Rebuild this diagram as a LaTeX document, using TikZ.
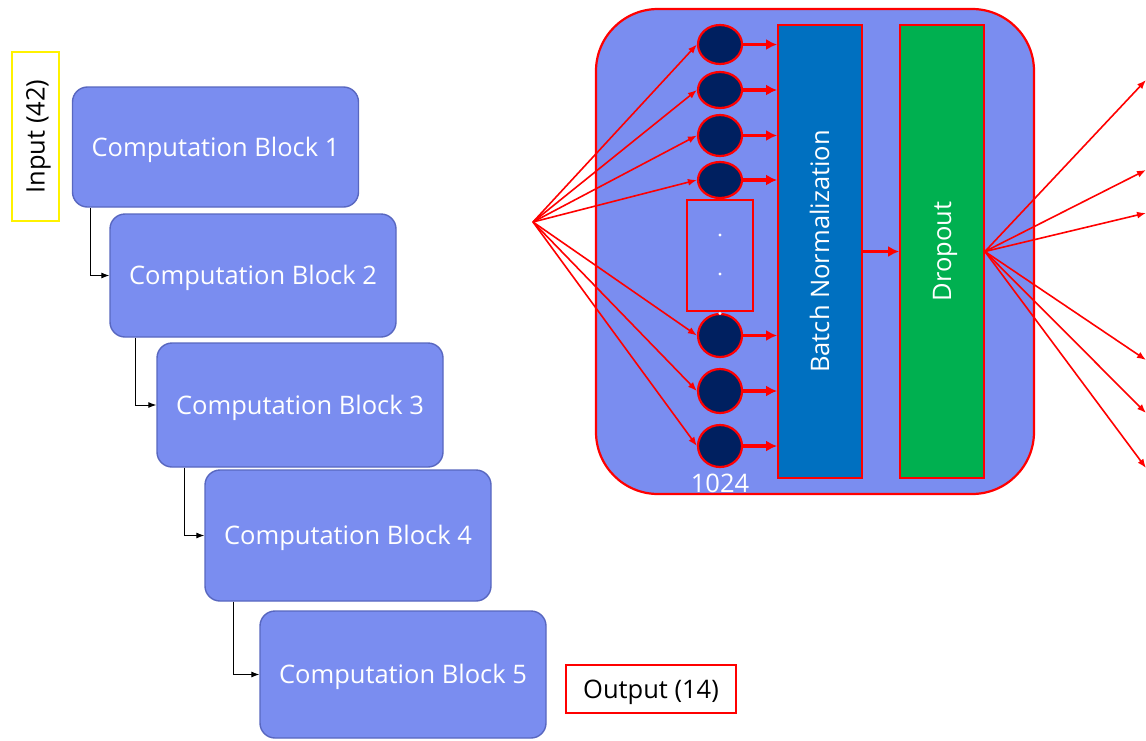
\documentclass[tikz,border=0pt]{standalone}
\usepackage{fontspec}
\setmainfont{Open Sans}
\usetikzlibrary{arrows.meta,shapes.geometric}
\definecolor{boxblue}{HTML}{7A8DF0}
\definecolor{blockline}{HTML}{5867C0}
\definecolor{neuron}{HTML}{002060}
\definecolor{bnblue}{HTML}{0070C0}
\definecolor{dropgreen}{HTML}{00B050}
\tikzset{
  txt/.style={font=\fontsize{25.5}{30}\selectfont, text height=18pt, text depth=0pt},
  block/.style={txt, draw=blockline, line width=1.4pt, fill=boxblue, text=white, rounded corners=15pt, minimum width=286pt, inner sep=0pt},
  flow/.style={draw=black, line width=0.9pt, -{Latex[length=8pt,width=6pt]}},
  neur/.style={ellipse, draw=red, line width=2.2pt, fill=neuron, minimum width=44pt, inner sep=0pt},
  thin red/.style={draw=red, line width=1.6pt, -{Latex[length=9pt,width=7pt]}},
  thick red/.style={draw=red, line width=3.6pt, -{Latex[length=11pt,width=11pt]}},
  bar/.style={txt, draw=red, line width=1.8pt, text=white, minimum width=453pt, minimum height=84pt, inner sep=0pt, rotate=90},
}
\begin{document}
\begin{tikzpicture}[x=1pt,y=-1pt]
\useasboundingbox[fill=white] (0,0) rectangle (1146,740);

% left stack
\node[txt, draw=yellow, line width=1.3pt, minimum width=169pt, minimum height=47pt, inner sep=0pt, rotate=90] (inp) at (35.5,136.5) {Input (42)};
\node[block, minimum height=120pt] (b1) at (215.5,147) {Computation Block 1};
\node[block, minimum height=123pt] (b2) at (253,275.5) {Computation Block 2};
\node[block, minimum height=124pt] (b3) at (300,405) {Computation Block 3};
\node[block, minimum height=131pt] (b4) at (348,535.5) {Computation Block 4};
\node[block, minimum height=127pt] (b5) at (403,674.5) {Computation Block 5};
\node[txt, draw=red, line width=1.3pt, minimum width=170pt, minimum height=48pt, inner sep=0pt] (out) at (651,689) {Output (14)};

\draw[flow] (b1.south west) ++(19,0) |- (b2.west);
\draw[flow] (b2.south west) ++(26,0) |- (b3.west);
\draw[flow] (b3.south west) ++(28,0) |- (b4.west);
\draw[flow] (b4.south west) ++(29,0) |- (b5.west);

% detailed block
\node[draw=red, line width=2.2pt, fill=boxblue, rounded corners=62pt, minimum width=438pt, minimum height=485pt, inner sep=0pt] (big) at (815,251.5) {};

\node[bar, fill=bnblue] (bn) at (820,251.5) {Batch Normalization};
\node[bar, fill=dropgreen] (dr) at (942,251.5) {Dropout};

\node[draw=red, line width=1.2pt, minimum width=66pt, minimum height=111pt, inner sep=0pt] (dots) at (720,255.5) {};
\fill[white] (720,235) circle (1.6pt) (720,274) circle (1.6pt);

\node[neur, minimum height=39pt] (n1) at (720,44.5) {};
\node[neur, minimum height=36pt] (n2) at (720,90) {};
\node[neur, minimum height=41pt] (n3) at (720,135.5) {};
\node[neur, minimum height=36pt] (n4) at (720,180) {};
\node[neur, minimum height=43pt] (n5) at (720,335.5) {};
\node[neur, minimum height=44pt] (n6) at (720,391) {};
\node[neur, minimum height=42pt] (n7) at (720,446) {};
\fill[white] (720,313.5) circle (1.6pt);

\node[txt, text=white, inner sep=0pt] (cnt) at (720,483) {1024};

\coordinate (src) at (533,222);
\foreach \n in {n1,n2,n3,n4,n5,n6,n7}{
  \draw[thin red] (src) -- (\n.west);
  \draw[thick red] (\n) -- (\n -| bn.north);
}
\draw[thick red] (bn) -- (dr);

\coordinate (t1) at (1146,80);
\coordinate (t2) at (1146,170);
\coordinate (t3) at (1146,213);
\coordinate (t4) at (1146,360);
\coordinate (t5) at (1146,413);
\coordinate (t6) at (1146,468);
\foreach \t in {t1,t2,t3,t4,t5,t6}{
  \draw[thin red] (dr.south) -- (\t);
}
\end{tikzpicture}
\end{document}
